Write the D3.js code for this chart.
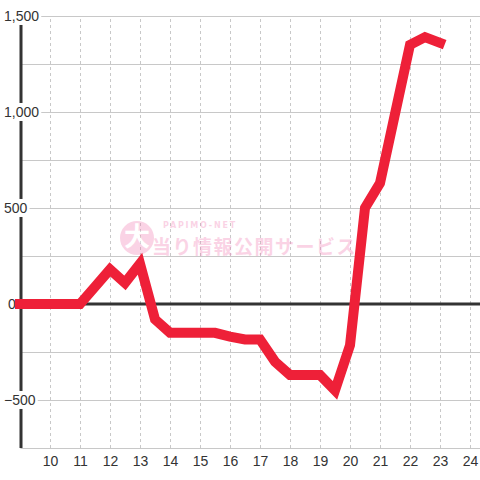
<!DOCTYPE html>
<html lang="ja">
  <head>
    <meta charset="utf-8">
    <title>差枚グラフ</title>
    <script src="https://cdn.jsdelivr.net/npm/d3@7"></script>
    <style>
      body { margin: 0; background: #fff; }
      svg { display: block; font-family: "Liberation Sans", Arial, sans-serif; }
    </style>
  </head>
  <body>
    <div id="chart"></div>
    <script type="text/javascript">
      // hours (half-hour steps) and the running medal difference
      const hours = [9, 9.5, 10, 10.5, 11, 11.5, 12, 12.5, 13, 13.5, 14, 14.5, 15, 15.5,
                     16, 16.5, 17, 17.5, 18, 18.5, 19, 19.5, 20, 20.5, 21, 21.5, 22, 22.5, 23];
      const values = [0, 0, 0, 0, 0, 90, 180, 110, 210, -80, -150, -150, -150, -150,
                      -170, -185, -185, -300, -370, -370, -370, -450, -215, 500, 630, 990, 1350, 1390, 1360];
      const xTicks = [10, 11, 12, 13, 14, 15, 16, 17, 18, 19, 20, 21, 22, 23, 24];
      const yLabelTicks = [-500, 0, 500, 1000, 1500];
      const yGridTicks = [-500, -250, 0, 250, 500, 750, 1000, 1250, 1500];

      function drawChart() {
          let svgWidth = 480,
              svgHeight = 480;

          let left = 20, right = 480, top = 16, bottom = 448;

          let svg = d3.select("#chart")
              .append("svg")
              .attr("width", svgWidth)
              .attr("height", svgHeight);

          let x = d3.scaleLinear()
              .domain([9, 9 + (right - left) / 30])
              .range([left, right]);

          let y = d3.scaleLinear()
              .domain([-750, 1500])
              .range([bottom, top]);

          // vertical dashed grid
          svg.append("g")
              .attr("transform", "translate(0," + bottom + ")")
              .call(d3.axisBottom(x).tickValues(xTicks).tickSize(-(bottom - top)).tickFormat(""))
              .call(g => g.select(".domain").remove())
              .selectAll("line")
              .attr("stroke", "#c8c8c8")
              .attr("stroke-dasharray", "3,3");

          // horizontal grid
          svg.append("g")
              .attr("transform", "translate(" + left + ",0)")
              .call(d3.axisLeft(y).tickValues(yGridTicks).tickSize(-(right - left)).tickFormat(""))
              .call(g => g.select(".domain").remove())
              .selectAll("line")
              .attr("stroke", "#c8c8c8");

          // bottom axis line and labels
          let xAxis = svg.append("g")
              .attr("transform", "translate(0," + bottom + ")")
              .call(d3.axisBottom(x).tickValues(xTicks).tickSize(0).tickPadding(8));
          xAxis.select(".domain").attr("stroke", "#c8c8c8");
          xAxis.selectAll("text")
              .attr("font-size", 14)
              .attr("font-family", "Liberation Sans, Arial, sans-serif")
              .attr("fill", "#333");

          // dark vertical axis
          svg.append("line")
              .attr("x1", left + 1).attr("x2", left + 1)
              .attr("y1", y(1500)).attr("y2", bottom)
              .attr("stroke", "#333")
              .attr("stroke-width", 3);

          // y labels with white backing
          let yAxis = svg.append("g")
              .call(d3.axisLeft(y).tickValues(yLabelTicks).tickSize(0).tickFormat(d3.format(",")));
          yAxis.select(".domain").remove();
          yAxis.selectAll("text")
              .attr("text-anchor", "start")
              .attr("x", d => d === 0 ? 8 : 4)
              .attr("font-size", 14)
              .attr("font-family", "Liberation Sans, Arial, sans-serif")
              .attr("fill", "#333");
          yAxis.selectAll(".tick").each(function() {
              let t = d3.select(this).select("text");
              let b = t.node().getBBox();
              d3.select(this).insert("rect", "text")
                  .attr("x", b.x - 2)
                  .attr("y", b.y - 1)
                  .attr("width", b.width + 4)
                  .attr("height", b.height + 2)
                  .attr("fill", "#fff");
          });

          // zero line
          svg.append("line")
              .attr("x1", left).attr("x2", right)
              .attr("y1", y(0)).attr("y2", y(0))
              .attr("stroke", "#333")
              .attr("stroke-width", 3);

          // watermark
          let wm = svg.append("g").attr("opacity", 0.32);
          wm.append("circle")
              .attr("cx", 137).attr("cy", 238).attr("r", 17)
              .attr("fill", "#f27ab0");
          wm.append("text")
              .attr("x", 137).attr("y", 246)
              .attr("text-anchor", "middle")
              .attr("font-family", "Noto Sans CJK JP")
              .attr("font-weight", "bold")
              .attr("font-size", 26)
              .attr("fill", "#fff")
              .text("大");
          wm.append("text")
              .attr("x", 163).attr("y", 228)
              .attr("font-family", "DejaVu Sans")
              .attr("font-weight", "bold")
              .attr("font-size", 8)
              .attr("letter-spacing", 1.8)
              .attr("fill", "#f27ab0")
              .text("PAPIMO-NET");
          wm.append("text")
              .attr("x", 152).attr("y", 254)
              .attr("font-family", "Noto Sans CJK JP")
              .attr("font-weight", "bold")
              .attr("font-size", 19)
              .attr("letter-spacing", 1.5)
              .attr("fill", "#f27ab0")
              .text("当り情報公開サービス");

          // data line
          let line = d3.line()
              .x((d, i) => x(hours[i]))
              .y(d => y(d));

          svg.append("path")
              .datum(values)
              .attr("d", line)
              .attr("fill", "none")
              .attr("stroke", "#ee2038")
              .attr("stroke-width", 10)
              .attr("stroke-linecap", "square")
              .attr("stroke-linejoin", "miter");
      }

      drawChart();
    </script>
  </body>
</html>
